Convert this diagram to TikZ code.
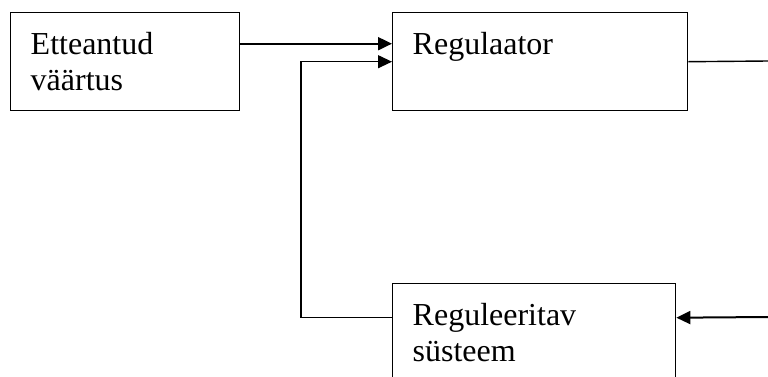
\documentclass[tikz,border=0pt]{standalone}
\usepackage{fontspec}
\setmainfont{Liberation Serif}
\usetikzlibrary{arrows.meta}

\begin{document}
\begin{tikzpicture}[x=0.5pt,y=-0.5pt,
  block/.style={draw,line width=0.7pt,anchor=north west,align=left,
    inner xsep=10pt,inner ysep=0pt,minimum height=49pt,
    font=\fontsize{16}{18}\selectfont},
  tip/.style={-{Triangle[length=7pt,width=6.5pt]}}]
\useasboundingbox (0,0) rectangle (768,376);

\node[block,text width=94.5pt] (E) at (10,12) {Etteantud\\väärtus};
\node[block,text width=127.5pt] (R) at (392,12) {Regulaator\\\mbox{}};
\node[block,text width=121.5pt] (S) at (392,283) {Reguleeritav\\süsteem};
\coordinate (out) at (768,61);
\coordinate (in) at (768,317);

\draw[tip,line width=1pt] ([yshift=9pt]E.east) -- ([yshift=9pt]R.west);
\draw[tip,line width=0.6pt] ([yshift=7.5pt]S.west) -| ([xshift=-45.5pt]R.west) -- (R.west);
\draw[line width=0.7pt] (R.east) -- (out);
\draw[tip,line width=1pt] (in) -- ([yshift=7.5pt]S.east);

\end{tikzpicture}
\end{document}
